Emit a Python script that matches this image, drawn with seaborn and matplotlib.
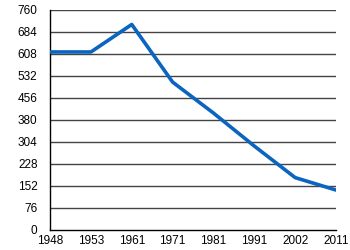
import matplotlib
matplotlib.use("Agg")
import matplotlib.pyplot as plt
import seaborn as sns
import pandas as pd

years = ["1948", "1953", "1961", "1971", "1981", "1991", "2002", "2011"]
values = [615, 615, 710, 511, 404, 290, 181, 138]
yticks = [0, 76, 152, 228, 304, 380, 456, 532, 608, 684, 760]

sns.set_style("white")
plt.rcParams['font.family'] = ['Liberation Sans', 'DejaVu Sans']

df = pd.DataFrame({"year": years, "value": values})
fig = plt.figure(figsize=(3.5, 2.5), dpi=100)
ax = fig.add_axes([0.143, 0.08, 0.817, 0.88])
ax.set_ylim(0, 760)
ax.set_yticks(yticks)
for t in yticks[1:]:
    ax.axhline(t, color="#444444", lw=1.0, zorder=1)
sns.lineplot(data=df, x="year", y="value", ax=ax, color="#0a64c0", lw=2.6, sort=False, zorder=3)
ax.set_xlim(0, len(years) - 1)
ax.set_xlabel("")
ax.set_ylabel("")
for s in ["top", "right"]:
    ax.spines[s].set_visible(False)
ax.spines["left"].set_color("black")
ax.spines["bottom"].set_color("black")
ax.spines["left"].set_linewidth(1.0)
ax.spines["bottom"].set_linewidth(1.0)
ax.tick_params(axis="y", labelsize=8.5, colors="black", length=4, width=0.8, pad=5)
ax.tick_params(axis="x", labelsize=8.5, colors="black", direction="inout", length=5, width=0.8, pad=1)
fig.savefig("out.png", dpi=100)
